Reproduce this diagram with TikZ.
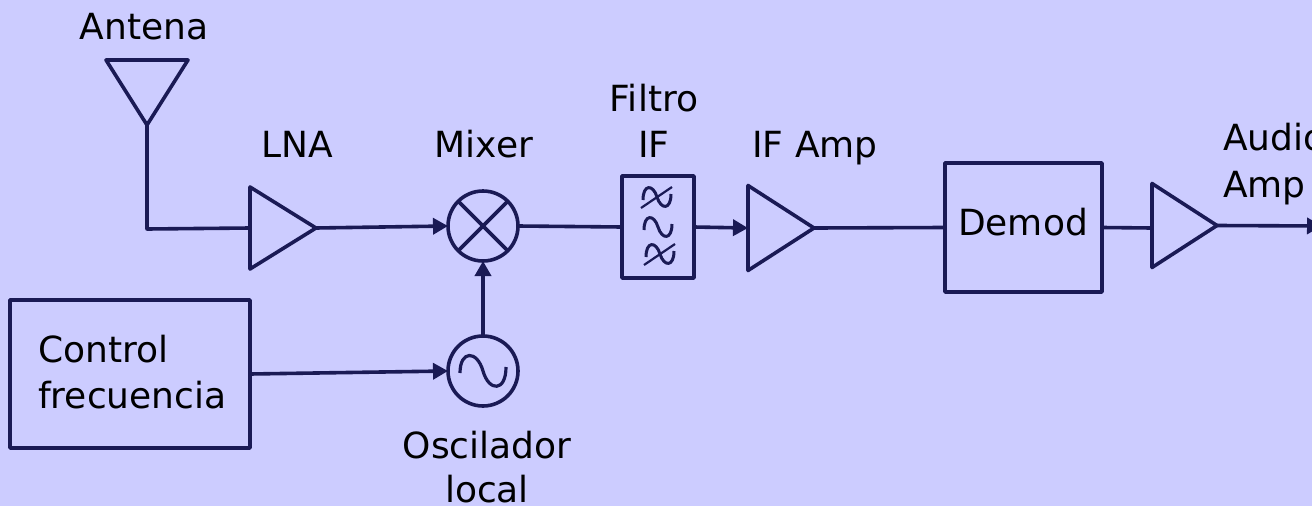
\documentclass[tikz,border=0pt]{standalone}
\usepackage{fontspec}
\setmainfont{DejaVu Sans}
\usetikzlibrary{arrows.meta,shapes.geometric}
\definecolor{bgc}{HTML}{CCCCFF}
\definecolor{linec}{HTML}{1A1A55}
\tikzset{
  x=1pt,y=-1pt,
  wire/.style={draw=linec,line width=3.6pt,line join=round},
  arrowwire/.style={wire,-{Triangle[length=15pt,width=16pt]}},
  blockbox/.style={draw=linec,line width=3.6pt,rectangle,inner sep=0pt,outer sep=0pt,line join=round},
  roundel/.style={draw=linec,line width=3.6pt,circle,inner sep=0pt,outer sep=0pt,minimum size=70pt},
  amp/.style={draw=linec,line width=3.6pt,isosceles triangle,isosceles triangle stretches,inner sep=0pt,outer sep=0pt,line join=round,minimum width=#1,minimum height=66pt},
  amp/.default=82pt,
  txt/.style={font=\fontsize{36}{42}\selectfont,text=black,inner sep=0pt,anchor=base},
  txtl/.style={txt,anchor=base west},
  glyph/.style={draw=linec,line width=3pt},
  wave/.pic={
    \draw[glyph] (-14,3) .. controls (-14,-13) and (-4,-13) .. (0,0) .. controls (4,13) and (14,13) .. (14,-3);
  },
  slashwave/.pic={
    \draw[glyph] (-14,3) .. controls (-14,-13) and (-4,-13) .. (0,0) .. controls (4,13) and (14,13) .. (14,-3);
    \draw[glyph,line width=2.2pt] (-16,11) -- (15,-10);
  }
}
\begin{document}
\begin{tikzpicture}
\useasboundingbox (0,0) rectangle (1312,506);
\clip (0,0) rectangle (1312,506);
\fill[bgc] (0,0) rectangle (1312,506);

% blocks
\node[amp=82pt,shape border rotate=-90,anchor=apex,minimum height=65pt] (ant) at (147,125) {};
\node[amp,anchor=apex] (lna) at (316,228) {};
\node[roundel] (mix) at (483,226) {};
\node[roundel] (osc) at (483,371) {};
\node[blockbox,minimum width=72pt,minimum height=102pt] (filt) at (658,227) {};
\node[amp=85pt,anchor=apex] (ifa) at (814,228) {};
\node[blockbox,minimum width=157pt,minimum height=129pt] (dem) at (1023.5,227.5) {};
\node[amp=84pt,anchor=apex,minimum height=65pt] (aud) at (1217,225.5) {};
\node[blockbox,minimum width=240pt,minimum height=148pt] (ctl) at (130,374) {};
\coordinate (corner) at (147,229);
\coordinate (audIn) at (1152,228);
\coordinate (outR) at (1322,226);

% mixer cross and oscillator wave
\draw[wire] (mix.north west) -- (mix.south east) (mix.north east) -- (mix.south west);
\draw[wire,line width=3.2pt] (460,373) .. controls (460,350) and (477,350) .. (483,371) .. controls (489,392) and (506,392) .. (506,367);

% filter symbols
\pic at (657,197) {slashwave};
\pic at (658,227) {wave};
\pic at (660,254) {slashwave};

% connectors
\draw[wire] (ant.apex) -- (corner) -- (lna.west);
\draw[arrowwire] (lna.apex) -- (mix.west);
\draw[wire] (mix.east) -- (filt.west);
\draw[arrowwire] (filt.east) -- (ifa.west);
\draw[wire] (ifa.apex) -- (dem.west);
\draw[wire] (dem.east) -- (audIn);
\draw[arrowwire] (aud.apex) -- (outR);
\draw[arrowwire] (osc.north) -- (mix.south);
\draw[arrowwire] (ctl.east) -- (osc.west);

% labels
\node[txt] (tAnt) at (144,39) {Antena};
\node[txt] (tLna) at (297,157) {LNA};
\node[txt] (tMix) at (484,157) {Mixer};
\node[txt] (tFil) at (654,111) {Filtro};
\node[txt] (tIf) at (654,157) {IF};
\node[txt] (tIfa) at (815,157) {IF Amp};
\node[txt] (tDem) at (1023,235) {Demod};
\node[txtl] (tAud) at (1223,150) {Audio};
\node[txtl] (tAmp) at (1223,197) {Amp};
\node[txtl] (tCon) at (38,362) {Control};
\node[txtl] (tFre) at (38,408) {frecuencia};
\node[txt] (tOsc) at (487,458) {Oscilador};
\node[txt] (tLoc) at (487,502) {local};
\end{tikzpicture}
\end{document}
